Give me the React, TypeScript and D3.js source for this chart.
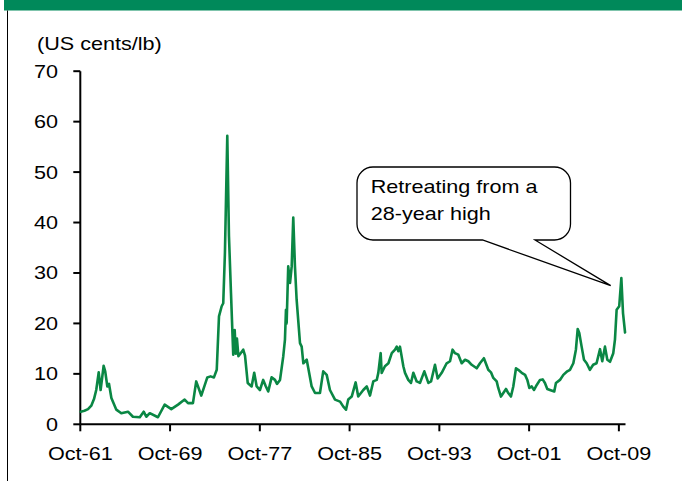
import React from "react";
import * as d3 from "d3";

const W = 682;
const H = 481;

// decimal year (Oct-61 = 1961.75)
const years: number[] = [
  1961.79, 1962.12, 1962.44, 1962.73, 1962.97, 1963.17, 1963.39, 1963.56, 1963.83, 1963.97,
  1964.16, 1964.31, 1964.52, 1964.96, 1965.4, 1966.0, 1966.44, 1967.05, 1967.4, 1967.63,
  1967.94, 1968.67, 1969.27, 1969.86, 1970.46, 1971.05, 1971.35, 1971.79, 1972.08, 1972.53,
  1973.07, 1973.36, 1973.66, 1973.91, 1974.11, 1974.35, 1974.49, 1974.64, 1974.85, 1975.0,
  1975.18, 1975.38, 1975.51, 1975.61, 1975.71, 1975.84, 1976.01, 1976.27, 1976.43, 1976.67,
  1977.02, 1977.25, 1977.47, 1977.76, 1978.05, 1978.27, 1978.5, 1978.8, 1979.1, 1979.28,
  1979.55, 1979.84, 1979.99, 1980.08, 1980.14, 1980.28, 1980.44, 1980.59, 1980.73, 1980.88,
  1981.03, 1981.33, 1981.48, 1981.63, 1981.93, 1982.07, 1982.37, 1982.67, 1983.11, 1983.4,
  1983.71, 1984.0, 1984.45, 1984.9, 1985.19, 1985.43, 1985.63, 1985.94, 1986.29, 1986.52,
  1986.97, 1987.28, 1987.57, 1987.86, 1988.17, 1988.31, 1988.52, 1988.61, 1988.9, 1989.21,
  1989.51, 1989.8, 1989.95, 1990.09, 1990.24, 1990.54, 1990.69, 1990.98, 1991.22, 1991.43,
  1991.73, 1992.02, 1992.41, 1992.77, 1993.01, 1993.36, 1993.6, 1993.96, 1994.4, 1994.7,
  1994.93, 1995.14, 1995.44, 1995.74, 1996.04, 1996.33, 1996.63, 1997.08, 1997.37, 1997.72,
  1998.11, 1998.35, 1998.56, 1998.86, 1999.0, 1999.24, 1999.45, 1999.69, 1999.89, 2000.13,
  2000.34, 2000.58, 2000.78, 2001.09, 2001.39, 2001.59, 2001.77, 2001.98, 2002.19, 2002.43,
  2002.72, 2002.96, 2003.16, 2003.37, 2003.61, 2003.99, 2004.14, 2004.5, 2004.8, 2005.15,
  2005.39, 2005.69, 2005.92, 2006.08, 2006.22, 2006.43, 2006.64, 2006.88, 2007.17, 2007.46,
  2007.76, 2008.07, 2008.27, 2008.51, 2008.72, 2008.96, 2009.25, 2009.4, 2009.55, 2009.78,
  2009.97, 2010.12, 2010.3,
];

// US cents/lb
const prices: number[] = [
  2.5, 2.7, 3.0, 3.7, 5.0, 6.8, 10.3, 6.8, 11.6, 10.5,
  7.5, 8.0, 5.2, 2.9, 2.2, 2.5, 1.5, 1.4, 2.5, 1.5,
  2.2, 1.4, 3.9, 3.0, 3.9, 4.9, 4.2, 4.2, 8.5, 5.7,
  9.3, 9.5, 9.3, 10.8, 21.4, 23.4, 24.0, 34.0, 57.2, 37.3,
  26.0, 13.8, 18.7, 14.0, 17.0, 13.5, 14.0, 14.8, 13.6, 8.2,
  7.5, 10.2, 7.5, 6.8, 8.8, 7.6, 6.5, 9.3, 8.8, 8.0,
  8.8, 13.5, 16.8, 22.7, 20.0, 31.3, 28.0, 31.3, 41.0, 31.3,
  24.7, 16.1, 15.4, 12.1, 12.8, 11.1, 7.5, 6.2, 6.2, 10.5,
  9.8, 6.8, 4.9, 4.5, 3.5, 2.9, 4.9, 5.5, 8.3, 5.5,
  6.8, 7.5, 5.7, 8.5, 8.8, 10.2, 14.1, 10.2, 11.5, 12.1,
  14.1, 14.8, 15.4, 14.5, 15.4, 11.5, 10.2, 8.8, 8.2, 10.2,
  8.5, 8.2, 10.5, 8.2, 8.5, 11.8, 9.1, 10.2, 12.1, 12.5,
  14.8, 14.1, 13.8, 12.1, 12.8, 12.5, 11.8, 11.1, 12.1, 13.1,
  10.8, 10.3, 9.2, 8.5, 7.2, 5.5, 6.2, 7.0, 6.2, 5.5,
  7.5, 11.1, 10.8, 10.2, 9.8, 8.8, 7.2, 7.5, 6.8, 7.8,
  8.8, 8.9, 8.2, 7.0, 6.8, 6.5, 8.2, 8.8, 9.8, 10.5,
  10.8, 12.1, 14.8, 18.9, 18.1, 15.4, 12.8, 12.1, 10.8, 11.8,
  12.1, 14.9, 12.5, 15.4, 12.8, 12.4, 14.1, 16.8, 22.7, 23.4,
  29.0, 22.0, 18.2,
];

const xTickValues: number[] = [1961.75, 1969.75, 1977.75, 1985.75, 1993.75, 2001.75, 2009.75];
const xTickLabels: string[] = ["Oct-61", "Oct-69", "Oct-77", "Oct-85", "Oct-93", "Oct-01", "Oct-09"];
const yTickValues: number[] = [0, 10, 20, 30, 40, 50, 60, 70];

const unitLabel = "(US cents/lb)";
const calloutLines: string[] = ["Retreating from a", "28-year high"];

const FONT = "Arial, 'Liberation Sans', Helvetica, sans-serif";
const SX = 1.2;

function SText(props: { x: number; y: number; anchor?: string; children: React.ReactNode }) {
  return (
    <text
      transform={`translate(${props.x},${props.y}) scale(${SX},1)`}
      textAnchor={props.anchor || "start"}
      fontFamily={FONT}
      fontSize={18}
      fill="#000"
    >
      {props.children}
    </text>
  );
}

export default function App() {
  const x = d3.scaleLinear().domain([1961.75, 2010.34]).range([80.3, 625.5]);
  const y = d3.scaleLinear().domain([0, 70]).range([424.3, 71.2]);

  const data = years.map((yr, i) => ({ yr, v: prices[i] }));
  const line = d3
    .line<{ yr: number; v: number }>()
    .x((d) => x(d.yr))
    .y((d) => y(d.v));

  // callout geometry
  const bx0 = 357, bx1 = 570.5, by0 = 167, by1 = 240, r = 16;
  const p1 = 482.5, p2 = 535, tipX = 610.7, tipY = 285.6;
  const callout =
    `M${bx0 + r},${by0} H${bx1 - r} A${r},${r} 0 0 1 ${bx1},${by0 + r} V${by1 - r} ` +
    `A${r},${r} 0 0 1 ${bx1 - r},${by1} H${p2} L${tipX},${tipY} L${p1},${by1} H${bx0 + r} ` +
    `A${r},${r} 0 0 1 ${bx0},${by1 - r} V${by0 + r} A${r},${r} 0 0 1 ${bx0 + r},${by0} Z`;

  const x0 = x(1961.75);
  const xEnd = x(2010.34);

  return (
    <svg
      width={W}
      height={H}
      viewBox={`0 0 ${W} ${H}`}
      style={{ position: "absolute", left: 0, top: 0, background: "#fff" }}
    >
      <rect x={0} y={0} width={W} height={H} fill="#fff" />
      {/* header band */}
      <rect x={4} y={0} width={W - 4} height={10.5} fill="#00895A" />
      {/* left frame line */}
      <line x1={7.5} y1={10.5} x2={7.5} y2={H} stroke="#000" strokeWidth={1} />

      <SText x={37} y={50}>{unitLabel}</SText>

      {/* y axis */}
      <line x1={x0} y1={y(70)} x2={x0} y2={y(0)} stroke="#000" strokeWidth={2} />
      {yTickValues.map((t) => (
        <g key={t}>
          <line x1={x0 - 7} y1={y(t)} x2={x0} y2={y(t)} stroke="#000" strokeWidth={2} />
          <SText x={58} y={y(t) + 6.5} anchor="end">{String(t)}</SText>
        </g>
      ))}

      {/* x axis */}
      <line x1={x0} y1={y(0)} x2={xEnd} y2={y(0)} stroke="#000" strokeWidth={2} />
      {xTickValues.map((t, i) => (
        <g key={t}>
          <line x1={x(t)} y1={y(0)} x2={x(t)} y2={y(0) + 7} stroke="#000" strokeWidth={2} />
          <SText x={x(t)} y={460} anchor="middle">{xTickLabels[i]}</SText>
        </g>
      ))}

      {/* series */}
      <path
        d={line(data) || ""}
        fill="none"
        stroke="#0A8744"
        strokeWidth={2.6}
        strokeLinejoin="round"
        strokeLinecap="round"
      />

      {/* callout */}
      <path d={callout} fill="#fff" stroke="#000" strokeWidth={1.3} />
      <SText x={370.7} y={192.5}>{calloutLines[0]}</SText>
      <SText x={370.7} y={219.5}>{calloutLines[1]}</SText>
    </svg>
  );
}
